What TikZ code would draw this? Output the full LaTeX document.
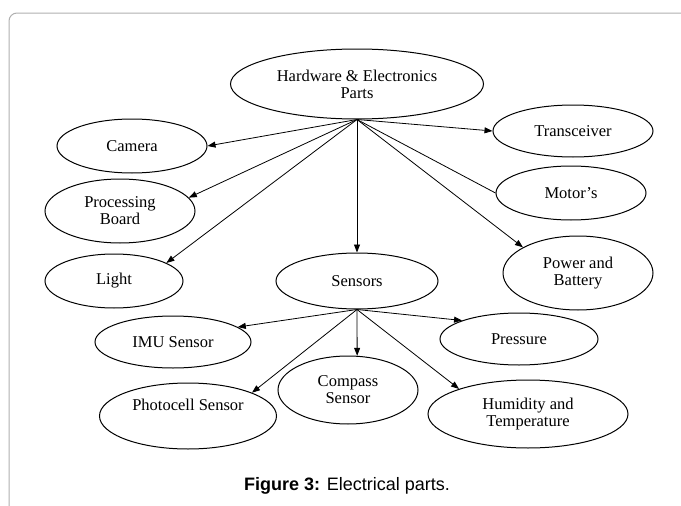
\documentclass[tikz,border=0pt]{standalone}
\usepackage{fontspec}
\setmainfont{Liberation Serif}
\newfontfamily\capfont{Liberation Sans}
\usetikzlibrary{shapes.geometric,arrows.meta}
\definecolor{framegray}{RGB}{175,175,175}
\tikzset{
    part/.style={draw, ellipse, line width=1pt, inner sep=0pt, align=center,
                 font=\fontsize{16.5}{17}\selectfont},
    link/.style={-{Triangle[length=8pt,width=6pt]}, line width=0.8pt},
}
\begin{document}
\begin{tikzpicture}[x=1pt, y=-1pt]
        \useasboundingbox (0,0) rectangle (681,506);
        \clip (0,0) rectangle (681,506);
        \draw[framegray, line width=1pt, rounded corners=8pt] (690,13) -- (9,13) -- (9,515);
        \node[part, minimum width=253pt, minimum height=70pt] (hub) at (357,84) {Hardware \& Electronics\\Parts};
        \node[part, minimum width=150pt, minimum height=54pt] (cam) at (132,146) {Camera};
        \node[part, minimum width=150pt, minimum height=64pt] (proc) at (120,211) {Processing\\Board};
        \node[part, minimum width=138pt, minimum height=54pt] (light) at (114,281) {Light};
        \node[part, minimum width=162pt, minimum height=56pt] (sens) at (357,281) {Sensors};
        \node[part, minimum width=160pt, minimum height=52pt] (trans) at (573,131) {Transceiver};
        \node[part, minimum width=150pt, minimum height=54pt] (motor) at (571,193) {Motor's};
        \node[part, minimum width=150pt, minimum height=74pt] (power) at (578,273) {Power and\\Battery};
        \node[part, minimum width=156pt, minimum height=52pt] (imu) at (173,342) {IMU Sensor};
        \node[part, minimum width=158pt, minimum height=52pt] (press) at (519,339) {Pressure};
        \node[part, minimum width=140pt, minimum height=68pt] (comp) at (348,390) {Compass\\Sensor};
        \node[part, minimum width=177pt, minimum height=66pt, text depth=22pt] (photo) at (188,416) {Photocell Sensor};
        \node[part, minimum width=200pt, minimum height=68pt] (humid) at (528,414) {Humidity and\\Temperature};
        \node[font=\capfont\fontsize{18}{20}\selectfont] (cap) at (347,486) {\textbf{Figure 3:} Electrical parts.};
        \draw[link] (hub.south) -- (cam.east);
        \draw[link] (hub.south) -- (proc.11);
        \draw[link] (hub.south) -- (light.19);
        \draw[link] (hub.south) -- (sens.north);
        \draw[link] (hub.south) -- (trans.west);
        \draw[line width=0.8pt] (hub.south) -- (motor.west);
        \draw[link] (hub.south) -- (power.155);
        \draw[link] (sens.south) -- (imu.13);
        \draw[link] (sens.south) -- (photo.20);
        \draw[link] (sens.south) -- (comp.75);
        \draw[link] (sens.south) -- (press.162);
        \draw[link] (sens.south) -- (humid.160);
\end{tikzpicture}
\end{document}
